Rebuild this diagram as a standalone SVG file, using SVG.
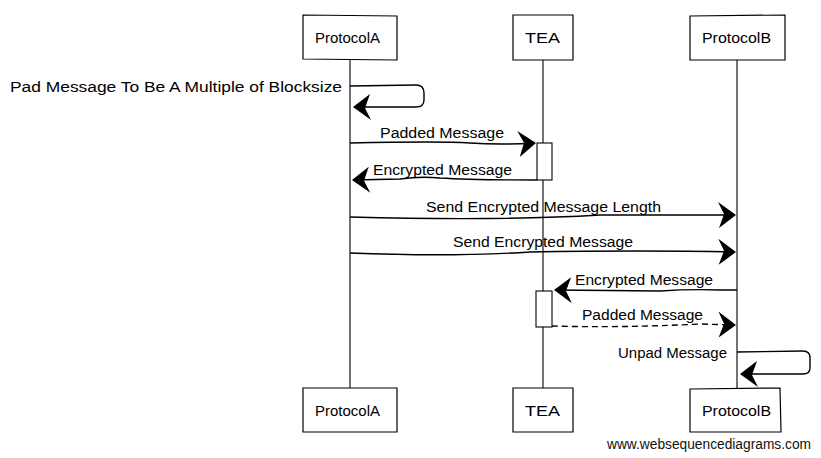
<svg xmlns="http://www.w3.org/2000/svg" width="821" height="458" viewBox="0 0 821 458">
<defs>
<marker id="ah" markerUnits="userSpaceOnUse" viewBox="-20 -14 22 28" markerWidth="22" markerHeight="28" refX="0" refY="0" orient="auto">
<path d="M1,0 L-17,-13 L-11,-1 L-16,13 Z" fill="#000"/>
</marker>
</defs>
<style>
.box{fill:#fff;stroke:#000;stroke-width:1.2}
.life{stroke:#000;stroke-width:1.1;fill:none}
.msg{stroke:#000;stroke-width:1.4;fill:none}
.dash{stroke-dasharray:6 4}
.act{fill:#fff;stroke:#000;stroke-width:1.1}
text{font-family:"Liberation Sans",Arial,sans-serif;font-size:14px;fill:#000}
.c{text-anchor:middle}
.foot{font-size:14px;fill:#111}
</style>
<rect width="821" height="458" fill="#fff"/>
<g id="lifelines">
<path class="life" d="M350,60 L350,388"/>
<path class="life" d="M543,60 L543,388"/>
<path class="life" d="M737,60 L737,388"/>
</g>
<g id="connectors">
<path class="msg" d="M350,86 L416,85 Q424,85 424,93 L424,100 Q424,107 416,107 L354,107" marker-end="url(#ah)"/>
<path class="msg" d="M350,143 Q440,141 470,143 T535,143" marker-end="url(#ah)"/>
<path class="msg" d="M537,180 Q470,180 440,178 Q420,176 400,179 L353,180" marker-end="url(#ah)"/>
<path class="msg" d="M350,217 Q500,221 600,215 L735,215" marker-end="url(#ah)"/>
<path class="msg" d="M350,253 Q450,257 530,252 Q640,250 735,252" marker-end="url(#ah)"/>
<path class="msg" d="M737,290 L720,290 Q690,289 660,291 L555,290" marker-end="url(#ah)"/>
<path class="msg dash" d="M552,326 Q620,328 700,324 L735,325" marker-end="url(#ah)"/>
<path class="msg" d="M737,352 L803,351 Q810,351 810,358 L810,368 Q810,374 803,374 L741,374" marker-end="url(#ah)"/>
</g>
<g id="activations">
<rect class="act" x="537" y="143" width="15" height="37"/>
<rect class="act" x="536" y="291" width="16" height="36"/>
</g>
<g id="labels">
<text x="10" y="92" textLength="332" lengthAdjust="spacingAndGlyphs">Pad Message To Be A Multiple of Blocksize</text>
<text x="380" y="138" textLength="124" lengthAdjust="spacingAndGlyphs">Padded Message</text>
<text x="373" y="175" textLength="139" lengthAdjust="spacingAndGlyphs">Encrypted Message</text>
<text x="426" y="212" textLength="235" lengthAdjust="spacingAndGlyphs">Send Encrypted Message Length</text>
<text x="453" y="247" textLength="180" lengthAdjust="spacingAndGlyphs">Send Encrypted Message</text>
<text x="575" y="285" textLength="138" lengthAdjust="spacingAndGlyphs">Encrypted Message</text>
<text x="582" y="320" textLength="121" lengthAdjust="spacingAndGlyphs">Padded Message</text>
<text x="618" y="358" textLength="109" lengthAdjust="spacingAndGlyphs">Unpad Message</text>
</g>
<g id="ProtocolA-top">
<path class="box" d="M303,15 L397,16 L397,60 L303,59 Z"/>
<text x="315" y="43" textLength="65" lengthAdjust="spacingAndGlyphs">ProtocolA</text>
</g>
<g id="TEA-top">
<path class="box" d="M513,15 L573,15 L573,60 L513,60 Z"/>
<text x="525" y="43" textLength="35" lengthAdjust="spacingAndGlyphs">TEA</text>
</g>
<g id="ProtocolB-top">
<path class="box" d="M690,16 L785,15 L785,60 L690,60 Z"/>
<text x="702" y="43" textLength="69" lengthAdjust="spacingAndGlyphs">ProtocolB</text>
</g>
<g id="ProtocolA-bottom">
<path class="box" d="M303,388 L397,388 L397,432 L303,432 Z"/>
<text x="315" y="416" textLength="65" lengthAdjust="spacingAndGlyphs">ProtocolA</text>
</g>
<g id="TEA-bottom">
<path class="box" d="M513,388 L573,388 L573,432 L513,432 Z"/>
<text x="525" y="416" textLength="35" lengthAdjust="spacingAndGlyphs">TEA</text>
</g>
<g id="ProtocolB-bottom">
<path class="box" d="M690,389 L780,388 L781,432 L690,432 Z"/>
<text x="702" y="416" textLength="69" lengthAdjust="spacingAndGlyphs">ProtocolB</text>
</g>
<text class="foot" x="607" y="449" textLength="204" lengthAdjust="spacingAndGlyphs">www.websequencediagrams.com</text>
</svg>
